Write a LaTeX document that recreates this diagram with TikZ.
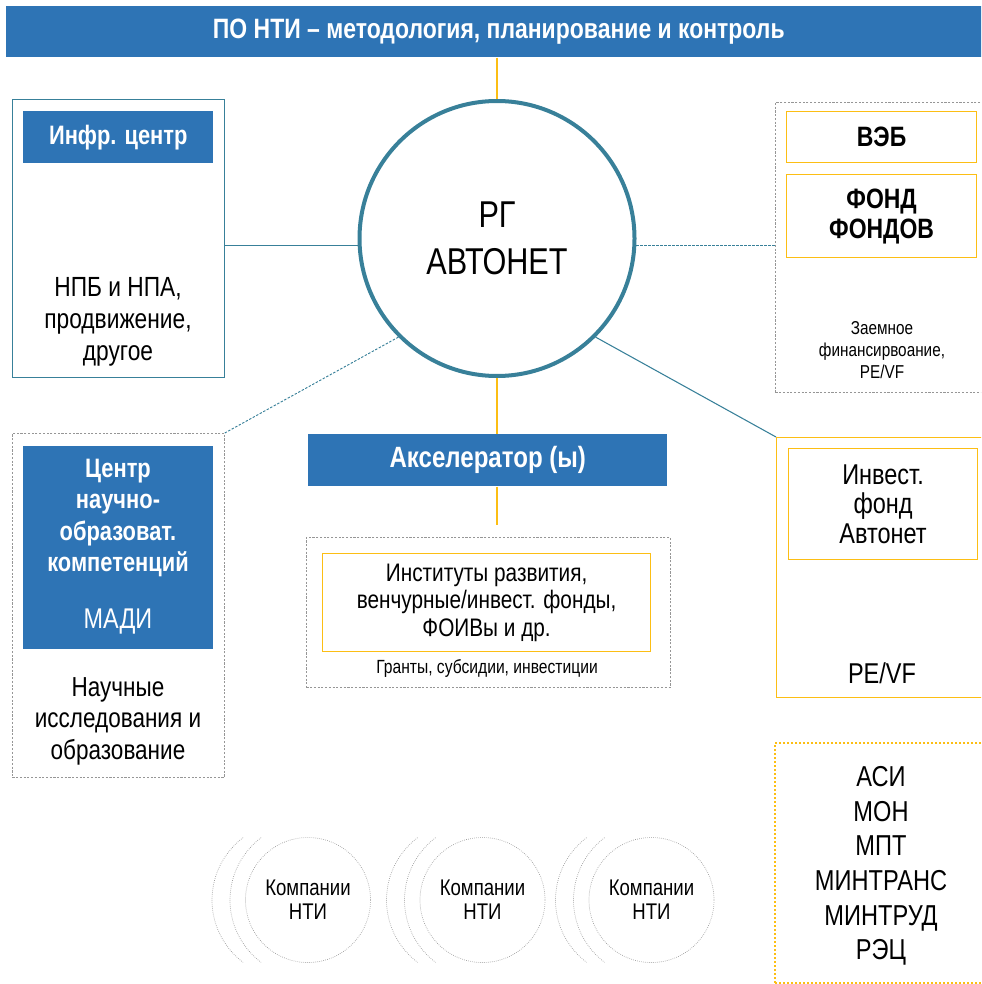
\documentclass[tikz,border=0pt]{standalone}
\usepackage{fontspec}
\setmainfont{Liberation Sans}[FakeStretch=0.82]
\usetikzlibrary{positioning}

\definecolor{ntiblue}{RGB}{46,116,181}
\definecolor{rgteal}{RGB}{56,128,153}
\definecolor{linkyellow}{RGB}{252,190,20}
\definecolor{boxgray}{RGB}{150,150,150}
\newcommand\pxu{0.75pt}
\newcommand\fs[2]{\fontsize{#1}{#2}\selectfont}

\begin{document}
\begin{tikzpicture}[x=0.75pt,y=-0.75pt,
    bar/.style={fill=ntiblue,text=white,inner sep=0pt,anchor=north west,align=center},
    framebox/.style={draw=rgteal,line width=0.8pt,inner sep=0pt,anchor=north west},
    dashbox/.style={draw=boxgray,line width=0.6pt,dash pattern=on 1.6pt off 1.2pt,inner sep=0pt,anchor=north west},
    ybox/.style={draw=linkyellow,line width=0.9pt,inner sep=0pt,anchor=north west,align=center},
    dotbox/.style={draw=linkyellow,line width=1.5pt,dash pattern=on 1.4pt off 1.6pt,inner sep=0pt,anchor=north west},
    txt/.style={align=center,inner sep=0pt},
    comp/.style={circle,draw=boxgray,line width=0.5pt,densely dotted,minimum size=125*\pxu,align=center,inner sep=0pt,font=\fs{17}{18}},
    ring/.style={draw=boxgray,line width=0.5pt,densely dotted},
    tline/.style={draw=rgteal,line width=0.8pt},
    tdash/.style={draw=rgteal,line width=0.7pt,dash pattern=on 1.8pt off 1.2pt},
    yline/.style={draw=linkyellow,line width=1.1pt}]

\useasboundingbox (0,0) rectangle (981,984);
\clip (0,0) rectangle (981,984);

% top bar and centre
\node[bar,minimum width=985*\pxu,minimum height=51*\pxu,font=\fs{21}{25}\bfseries] (po) at (6,6) {ПО НТИ – методология, планирование и контроль};
\node[circle,draw=rgteal,line width=3pt,minimum size=275*\pxu,inner sep=0pt,align=center,font=\fs{28}{35}] (rg) at (497,238.5) {РГ\\АВТОНЕТ};

% left: information centre
\node[framebox,minimum width=212*\pxu,minimum height=278*\pxu] (infr) at (12,99) {};
\node[bar,minimum width=190*\pxu,minimum height=52*\pxu,font=\fs{20}{22}\bfseries] (infrtitle) at (23,111) {Инфр. центр};
\node[txt,font=\fs{20.8}{24}] (infrtext) at (118,322) {НПБ и НПА,\\продвижение,\\другое};

% right: loans
\node[dashbox,minimum width=215*\pxu,minimum height=290*\pxu] (loans) at (775,102) {};
\node[ybox,minimum width=190*\pxu,minimum height=51*\pxu,font=\fs{21}{22.5}\bfseries] (veb) at (786,111) {ВЭБ};
\node[ybox,minimum width=190*\pxu,minimum height=83*\pxu,font=\fs{21}{22.5}\bfseries] (ff) at (786,174) {ФОНД\\ФОНДОВ};
\node[txt,font=\fs{14}{16.5}] (loanstext) at (882,350) {Заемное\\финансирвоание,\\PE/VF};

% left: science and education
\node[dashbox,minimum width=212*\pxu,minimum height=344*\pxu] (nok) at (12,433) {};
\node[bar,minimum width=190*\pxu,minimum height=203*\pxu] (noktitle) at (23,446) {};
\node[txt,text=white,font=\fs{20}{23.5}\bfseries] (nokname) at (118,518) {Центр\\научно-\\образоват.\\компетенций};
\node[txt,text=white,font=\fs{21.4}{23}] (madi) at (118,622) {МАДИ};
\node[txt,font=\fs{20.6}{23.6}] (noktext) at (118,721) {Научные\\исследования и\\образование};

% accelerator
\node[bar,minimum width=359*\pxu,minimum height=52*\pxu,font=\fs{22}{25}\bfseries] (accel) at (308,434) {Акселератор (ы)};
\coordinate (accelend) at (497,525);
\node[dashbox,minimum width=364*\pxu,minimum height=150*\pxu] (inst) at (306,537) {};
\node[ybox,minimum width=328*\pxu,minimum height=98*\pxu,font=\fs{19}{20.5}] (instbox) at (322,553) {Институты развития,\\венчурные/инвест. фонды,\\ФОИВы и др.};
\node[txt,font=\fs{14.3}{15}] (insttext) at (487,668) {Гранты, субсидии, инвестиции};

% right: investment fund
\node[ybox,minimum width=215*\pxu,minimum height=260*\pxu] (invest) at (776,437) {};
\node[ybox,minimum width=189*\pxu,minimum height=111*\pxu,font=\fs{21.5}{22}] (investfund) at (788,448) {Инвест.\\фонд\\Автонет};
\node[txt,font=\fs{21.5}{22}] (investtext) at (882,673) {PE/VF};

% right: authorities
\node[dotbox,minimum width=215*\pxu,minimum height=240*\pxu] (gov) at (774,742) {};
\node[txt,font=\fs{21.6}{26}] (govtext) at (881,866) {АСИ\\МОН\\МПТ\\МИНТРАНС\\МИНТРУД\\РЭЦ};

% companies
\foreach \cx [count=\i] in {308,482.5,651.5} {
  \node[comp] (comp\i) at (\cx,900) {Компании\\НТИ};
  \draw[ring] (comp\i.center) ++(127:58.5pt) arc[start angle=127,end angle=233,radius=58.5pt];
  \draw[ring] ([xshift=-13.5pt]comp\i.center) ++(127:58.5pt) arc[start angle=127,end angle=233,radius=58.5pt];
}

% links
\draw[yline] (po.south -| rg.north) -- (rg.north);
\draw[tline] (rg.183.5) -- (rg.183.5 -| infr.east);
\draw[tdash] (rg.-3.5) -- (rg.-3.5 -| loans.west);
\draw[tdash] (rg.225) -- (nok.north east);
\draw[tline] (rg.-45) -- (invest.north west);
\draw[yline] (rg.south) -- (rg.south |- accel.north);
\draw[yline] (accel.south -| rg.south) -- (accelend);

\end{tikzpicture}
\end{document}
